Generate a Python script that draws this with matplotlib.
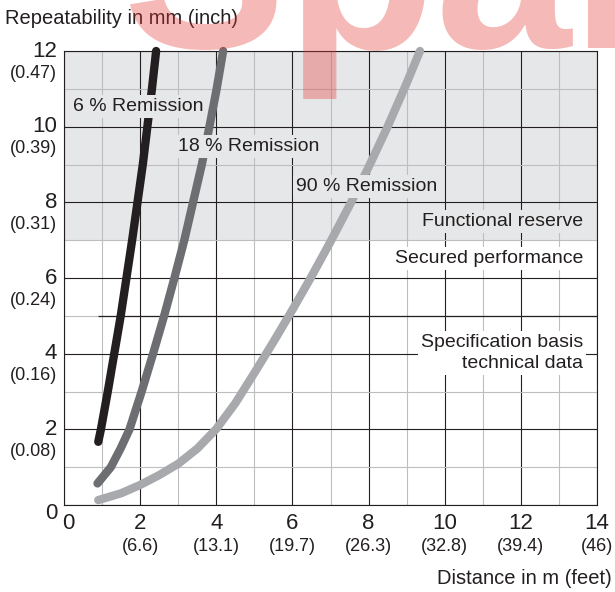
import matplotlib
matplotlib.use("Agg")
import matplotlib.pyplot as plt

plt.rcParams['font.family'] = ['Liberation Sans', 'DejaVu Sans']

# kreives (x - atstumas m, y - pakartojamumas mm)
x6 = [0.9, 0.97, 1.15, 1.32, 1.49, 1.64, 1.79, 1.93, 2.07, 2.19, 2.31, 2.42]
y6 = [1.67, 2.0, 3.0, 4.0, 5.0, 6.0, 7.0, 8.0, 9.0, 10.0, 11.0, 12.0]

x18 = [0.88, 1.23, 1.49, 1.72, 2.04, 2.34, 2.63, 2.9, 3.16, 3.39, 3.62, 3.82, 4.01, 4.18]
y18 = [0.57, 1.0, 1.5, 2.0, 3.0, 4.0, 5.0, 6.0, 7.0, 8.0, 9.0, 10.0, 11.0, 12.0]

x90 = [0.9, 1.5, 2.0, 2.5, 3.0, 3.5, 4.0, 4.5, 5.0, 5.5, 6.0, 6.5, 7.0, 7.5, 8.0, 8.5, 9.0, 9.35]
y90 = [0.13, 0.31, 0.53, 0.79, 1.09, 1.49, 2.01, 2.69, 3.49, 4.31, 5.16, 6.04, 6.96, 7.92, 8.93, 10.0, 11.15, 12.0]

y_ticks = [2, 4, 6, 8, 10, 12]
y_inch = ["(0.08)", "(0.16)", "(0.24)", "(0.31)", "(0.39)", "(0.47)"]
x_ticks = [2, 4, 6, 8, 10, 12, 14]
x_feet = ["(6.6)", "(13.1)", "(19.7)", "(26.3)", "(32.8)", "(39.4)", "(46)"]

dark = '#231f20'
light = '#bcbec0'
band = '#e6e7e8'

fig = plt.figure(figsize=(6.15, 5.92), dpi=100)
ax = fig.add_axes([64/615, 1-505/592, (597-64)/615, (505-51)/592])
ax.set_xlim(0, 14)
ax.set_ylim(0, 12)

ax.axhspan(7, 12, color=band, zorder=0, lw=0)

ax.set_xticks(range(0, 15, 2))
ax.set_xticks(range(1, 14, 2), minor=True)
ax.set_yticks(range(0, 13, 2))
ax.set_yticks(range(1, 12, 2), minor=True)
ax.set_axisbelow(True)
ax.grid(which='major', color=dark, lw=0.8)
ax.grid(which='minor', color=light, lw=0.8)
ax.tick_params(which='both', length=0, labelbottom=False, labelleft=False)
for s in ax.spines.values():
    s.set_color(dark)
    s.set_linewidth(0.8)

ax.hlines(5, 0.9, 14, color=dark, lw=0.9, zorder=1)

kw = dict(lw=6, solid_capstyle='round', solid_joinstyle='round', zorder=3, clip_on=False)
ax.plot(x6, y6, color=dark, **kw)
ax.plot(x18, y18, color='#6d6e71', **kw)
ax.plot(x90, y90, color='#a7a9ac', **kw)

box_g = dict(boxstyle='square,pad=0.15', facecolor=band, edgecolor='none')
box_w = dict(boxstyle='square,pad=0.15', facecolor='white', edgecolor='none')
fs = 14
ax.text(0.24, 10.53, "6 % Remission", fontsize=fs, color=dark, ha='left', va='center', bbox=box_g, zorder=4)
ax.text(3.0, 9.47, "18 % Remission", fontsize=fs, color=dark, ha='left', va='center', bbox=box_g, zorder=4)
ax.text(6.1, 8.42, "90 % Remission", fontsize=fs, color=dark, ha='left', va='center', bbox=box_g, zorder=4)
ax.text(13.64, 7.49, "Functional reserve", fontsize=fs, color=dark, ha='right', va='center', bbox=box_g, zorder=4)
ax.text(13.64, 6.52, "Secured performance", fontsize=fs, color=dark, ha='right', va='center', bbox=box_w, zorder=4)
ax.text(13.64, 4.02, "Specification basis\ntechnical data", fontsize=fs, color=dark, ha='right', va='center',
        multialignment='right', linespacing=1.3, bbox=box_w, zorder=4)

# asiu uzrasai
for v, inch in zip(y_ticks, y_inch):
    ax.annotate(str(v), xy=(0, v), xycoords=('axes fraction', 'data'), xytext=(-5, 0),
                textcoords='offset points', ha='right', va='center', fontsize=16, color=dark)
    ax.annotate(inch, xy=(0, v), xycoords=('axes fraction', 'data'), xytext=(-5, -16),
                textcoords='offset points', ha='right', va='center', fontsize=13, color=dark)
for v, ft in zip(x_ticks, x_feet):
    ax.annotate(str(v), xy=(v, 0), xycoords=('data', 'axes fraction'), xytext=(0, -13),
                textcoords='offset points', ha='center', va='center', fontsize=16, color=dark)
    ax.annotate(ft, xy=(v, 0), xycoords=('data', 'axes fraction'), xytext=(0, -30),
                textcoords='offset points', ha='center', va='center', fontsize=13, color=dark)
ax.annotate("0", xy=(0, 0), xycoords='axes fraction', xytext=(-5, -6),
            textcoords='offset points', ha='right', va='center', fontsize=16, color=dark)
ax.annotate("0", xy=(0, 0), xycoords='axes fraction', xytext=(3, -13),
            textcoords='offset points', ha='center', va='center', fontsize=16, color=dark)

fig.text(5/615, 1-18/592, "Repeatability in mm (inch)", fontsize=14.5, color=dark, ha='left', va='center')
fig.text(612/615, 1-578/592, "Distance in m (feet)", fontsize=14.5, color=dark, ha='right', va='center')

# vandens zenklas
fig.text(123/615, 1-48/592, "Spar", fontsize=176, fontweight='bold', color='#e53935', alpha=0.35,
         ha='left', va='baseline', zorder=10)

fig.savefig("out.png", dpi=100)
